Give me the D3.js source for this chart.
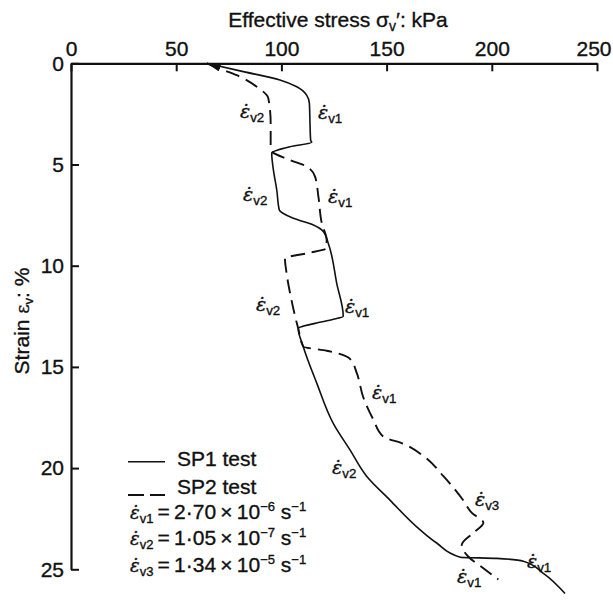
<!DOCTYPE html>
<html>
<head>
<meta charset="utf-8">
<script src="https://cdn.jsdelivr.net/npm/d3@7"></script>
<style>
  html, body { margin: 0; padding: 0; background: #fff; }
  svg { display: block; }
  text { font-family: "Liberation Sans", Arial, sans-serif; fill: #111; stroke: #111; stroke-width: 0.35px; }
</style>
</head>
<body>
<svg id="chart" width="613" height="606"></svg>
<script>
// ---- data ----
const stressTicks = [0, 50, 100, 150, 200, 250];
const strainTicks = [0, 5, 10, 15, 20, 25];

const sp1Stress = [64.5, 81.9, 99.3, 107.3, 112, 113.3, 113.6, 113.9, 114.4, 104.1, 95.4, 96.2, 97.8, 99.0, 105.7, 115.2, 120, 122.3, 126.3, 129.4, 124.7, 116, 108, 110.4, 116.8, 124.7, 132.6, 140.5, 151.6, 164.3, 173.8, 185, 202.3, 215, 224.5, 234.8];
const sp1Strain = [0, 0.41, 0.82, 1.16, 1.57, 1.98, 3.0, 3.8, 3.9, 4.12, 4.45, 5.27, 6.26, 7.25, 7.66, 7.99, 8.32, 8.9, 10.87, 12.5, 12.65, 12.85, 13.1, 14.0, 15.8, 17.8, 19.1, 20.4, 21.58, 22.9, 23.7, 24.4, 24.46, 24.6, 25.2, 26.2];

const sp2Stress = [64.5, 72.4, 80.3, 88.3, 93.8, 94.9, 94.9, 94.9, 104.1, 112, 116, 117.6, 119.2, 121.5, 121.5, 112, 101.7, 102.5, 104.8, 106.5, 108, 110.4, 121.5, 132.6, 135.8, 138.9, 143.7, 148.5, 158, 167.5, 177, 186.5, 190.4, 196, 191.2, 185.7, 188.9, 196, 203.1];
const sp2Strain = [0, 0.33, 0.66, 1.16, 1.73, 2.96, 3.6, 4.28, 4.78, 5.1, 5.6, 6.6, 7.9, 8.73, 9.14, 9.39, 9.63, 10.4, 11.7, 12.5, 13.1, 14.0, 14.2, 14.6, 15.3, 16.5, 17.6, 18.45, 18.8, 19.4, 20.4, 21.6, 22.2, 22.7, 23.2, 23.8, 24.38, 24.95, 25.5];

// curve annotations (rate labels)
const labelSub    = ["v2", "v1", "v2", "v1", "v2", "v1", "v1", "v2", "v3", "v1", "v1"];
const labelStress = [80.3, 117.4, 81.8, 122.2, 87.9, 130.2, 143.1, 124.1, 192.0, 183.5, 216.7];
const labelStrain = [2.41, 2.46, 6.5, 6.6, 11.94, 12.04, 16.29, 19.99, 21.58, 25.38, 24.64];

// legend
const legendNames = ["SP1 test", "SP2 test"];
const rateSubs = ["v1", "v2", "v3"];
const rateMant = ["2·70", "1·05", "1·34"];
const rateExp  = ["−6", "−7", "−5"];

// ---- drawing ----
const svg = d3.select("#chart");
const x = d3.scaleLinear().domain([0, 250]).range([71, 597]);
const y = d3.scaleLinear().domain([0, 25]).range([63.3, 569.3]);

// axes
const topAxis = d3.axisTop(x).tickValues(stressTicks).tickSize(-8).tickSizeOuter(0).tickPadding(7);
const leftAxis = d3.axisLeft(y).tickValues(strainTicks).tickSize(-8).tickSizeOuter(0).tickPadding(7);

const gTop = svg.append("g").attr("transform", `translate(0,${y(0)})`).call(topAxis);
const gLeft = svg.append("g").attr("transform", `translate(${x(0)},0)`).call(leftAxis);
[gTop, gLeft].forEach(g => {
  g.select(".domain").attr("stroke", "#111").attr("stroke-width", 2.2);
  g.selectAll(".tick line").attr("stroke", "#111").attr("stroke-width", 2);
  g.selectAll(".tick text").attr("font-size", 21).attr("font-family", "Liberation Sans, Arial, sans-serif").attr("fill", "#111");
});
// keep the last top label inside the picture
gTop.selectAll(".tick text").filter(d => d === stressTicks[stressTicks.length - 1])
  .attr("text-anchor", "end").attr("x", 14);

// axis titles
const title = svg.append("text").attr("x", 338).attr("y", 27).attr("text-anchor", "middle").attr("font-size", 21);
title.append("tspan").text("Effective stress σ");
title.append("tspan").attr("font-size", 14).attr("dy", 4).text("v");
title.append("tspan").attr("dy", -4).text("′: kPa");

const ylab = svg.append("text").attr("transform", "translate(29,321) rotate(-90)").attr("text-anchor", "middle").attr("font-size", 21);
ylab.append("tspan").text("Strain ");
ylab.append("tspan").attr("font-family", "DejaVu Serif, serif").attr("font-size", 18).text("ε");
ylab.append("tspan").attr("font-size", 13).attr("dy", 4).text("v");
ylab.append("tspan").attr("dy", -4).text(": %");

// marker for curve start
svg.append("defs").append("marker")
  .attr("id", "arr").attr("viewBox", "0 -4 14 8").attr("refX", 0).attr("refY", 0)
  .attr("markerWidth", 14).attr("markerHeight", 8).attr("markerUnits", "userSpaceOnUse")
  .attr("orient", "auto")
  .append("path").attr("d", "M0,0 L14,-3 L14,3 Z").attr("fill", "#111");

const line = d3.line().x(d => x(d[0])).y(d => y(d[1])).curve(d3.curveMonotoneY);
const sp1 = sp1Stress.map((s, i) => [s, sp1Strain[i]]);
const sp2 = sp2Stress.map((s, i) => [s, sp2Strain[i]]);

svg.append("path").datum(sp2).attr("d", line).attr("fill", "none").attr("stroke", "#111")
  .attr("stroke-width", 1.9).attr("stroke-dasharray", "14,7").attr("marker-start", "url(#arr)");
svg.append("path").datum(sp1).attr("d", line).attr("fill", "none").attr("stroke", "#111")
  .attr("stroke-width", 1.6).attr("marker-start", "url(#arr)");

// epsilon-dot helper
function epsDot(sel, sub, size) {
  const t = sel.append("text").attr("font-size", size);
  t.append("tspan").attr("font-family", "DejaVu Serif, serif").attr("font-style", "italic").text("ε\u0307");
  t.append("tspan").attr("font-size", size * 0.7).attr("dy", size * 0.22).text(sub);
  return t;
}

labelSub.forEach((s, i) => {
  epsDot(svg, s, 19).attr("x", x(labelStress[i])).attr("y", y(labelStrain[i]) + 6);
});

// legend
svg.append("line").attr("x1", 128).attr("x2", 165).attr("y1", 461.7).attr("y2", 461.7)
  .attr("stroke", "#111").attr("stroke-width", 1.6);
svg.append("line").attr("x1", 128).attr("x2", 165).attr("y1", 495).attr("y2", 495)
  .attr("stroke", "#111").attr("stroke-width", 2).attr("stroke-dasharray", "16,6");
legendNames.forEach((n, i) => {
  svg.append("text").attr("x", 177).attr("y", 466 + i * 27.5).attr("font-size", 21).text(n);
});
rateSubs.forEach((s, i) => {
  const t = svg.append("text").attr("x", 130).attr("y", 518.5 + i * 26.6).attr("font-size", 21);
  t.append("tspan").attr("font-family", "DejaVu Serif, serif").attr("font-style", "italic").attr("font-size", 18).text("ε\u0307");
  t.append("tspan").attr("font-size", 13).attr("dy", 4).text(s);
  t.append("tspan").attr("dy", -4).text("\u2009=\u2009" + rateMant[i] + "\u2009×\u200910");
  t.append("tspan").attr("font-size", 13).attr("dy", -8).text(rateExp[i]);
  t.append("tspan").attr("dy", 8).text(" s");
  t.append("tspan").attr("font-size", 13).attr("dy", -8).text("−1");
});
</script>
</body>
</html>
